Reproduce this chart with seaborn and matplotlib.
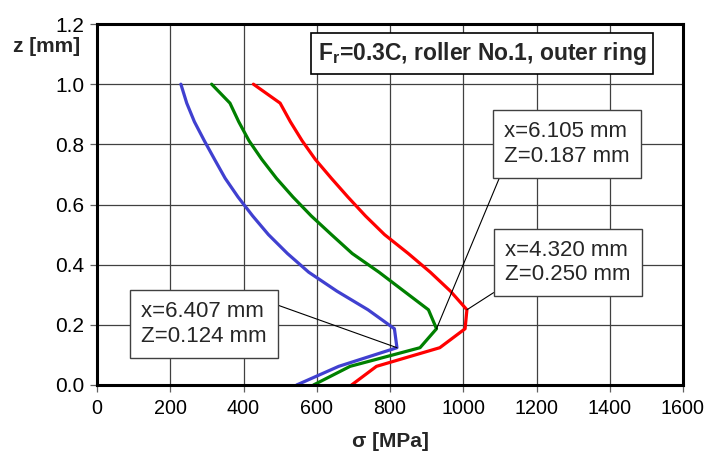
import matplotlib
matplotlib.use("Agg")
import matplotlib.pyplot as plt
import numpy as np
import pandas as pd
import seaborn as sns

# depth below the raceway surface [mm]
z_mm = [0.0, 0.062, 0.124, 0.187, 0.250, 0.312, 0.375, 0.437, 0.500,
        0.562, 0.625, 0.687, 0.750, 0.812, 0.875, 0.937, 1.0]

# equivalent stress [MPa] along depth at three axial positions
sigma_x6407 = [545, 660, 819, 812, 740, 655, 578, 520, 468, 425, 385, 350,
               321, 293, 266, 245, 229]
sigma_x6105 = [591, 691, 882, 927, 905, 838, 770, 697, 640, 585, 535, 490,
               450, 415, 387, 363, 313]
sigma_x4320 = [695, 763, 936, 1005, 1010, 965, 910, 850, 785, 733, 685, 640,
               596, 560, 528, 500, 427]

series_names = ["x=6.407 mm", "x=6.105 mm", "x=4.320 mm"]
series_values = [sigma_x6407, sigma_x6105, sigma_x4320]
peak_depths = [0.124, 0.187, 0.250]
series_colors = ["#4040d0", "#008000", "#ff0000"]

x_ticks = [0, 200, 400, 600, 800, 1000, 1200, 1400, 1600]
y_ticks = [0.0, 0.2, 0.4, 0.6, 0.8, 1.0, 1.2]

title_text = r"$\mathbf{F_r}$=0.3C, roller No.1, outer ring"

frames = []
for name, vals in zip(series_names, series_values):
    frames.append(pd.DataFrame({"sigma": vals, "z": z_mm, "series": name}))
df = pd.concat(frames, ignore_index=True)

sns.set_theme(style="white")
plt.rcParams["font.family"] = ["Liberation Sans", "DejaVu Sans"]
plt.rcParams["mathtext.fontset"] = "custom"
plt.rcParams["mathtext.rm"] = "Liberation Sans"
plt.rcParams["mathtext.bf"] = "Liberation Sans:bold"

fig = plt.figure(figsize=(7.04, 4.57), dpi=100)
ax = fig.add_axes([97 / 704, 72 / 457, 586 / 704, 361 / 457])

sns.lineplot(data=df, x="sigma", y="z", hue="series", palette=series_colors,
             hue_order=series_names, sort=False, estimator=None,
             legend=False, linewidth=2.3, ax=ax)

ax.set_xlim(0, 1600)
ax.set_ylim(0, 1.2)
ax.set_xticks(x_ticks)
ax.set_yticks(y_ticks)
ax.set_xticklabels([str(t) for t in x_ticks])
ax.set_yticklabels([f"{t:.1f}" for t in y_ticks])
ax.grid(True, color="#404040", linewidth=0.9)
ax.set_axisbelow(True)
for sp in ax.spines.values():
    sp.set_linewidth(2.2)
    sp.set_color("black")
ax.tick_params(axis="both", direction="out", length=5, width=0.9,
               color="#606060", labelcolor="black", pad=4,
               bottom=True, left=True)
ax.tick_params(axis="x", labelsize=14.2, pad=5)
ax.tick_params(axis="y", labelsize=15)

ax.set_xlabel("σ [MPa]", fontsize=15, fontweight="bold", labelpad=10)
ax.set_ylabel("")
fig.text(13 / 704, 1 - 47 / 457, "z [mm]", fontsize=15, fontweight="bold",
         ha="left", va="center")

ax.text(1051, 1.102, title_text, fontsize=16.5, fontweight="bold",
        ha="center", va="center",
        bbox=dict(boxstyle="square,pad=0.3", facecolor="white",
                  edgecolor="black", linewidth=1.2))

# leader-line call-outs at the stress maxima
box_centers = {"x=6.407 mm": (293, 0.203, (1, 1)),
               "x=6.105 mm": (1283, 0.801, (0, 0)),
               "x=4.320 mm": (1286, 0.407, (0, 0))}
for name, vals, zp in zip(series_names, series_values, peak_depths):
    i = z_mm.index(zp)
    cx, cy, rel = box_centers[name]
    ax.annotate(f"{name}\nZ={zp:.3f} mm", xy=(vals[i], z_mm[i]),
                xytext=(cx, cy), textcoords="data", fontsize=16,
                ha="center", va="center", multialignment="left",
                linespacing=1.2,
                bbox=dict(boxstyle="square,pad=0.5", facecolor="white",
                          edgecolor="#404040", linewidth=1.0),
                arrowprops=dict(arrowstyle="-", color="black", lw=0.8,
                                relpos=rel, shrinkA=0, shrinkB=0))

fig.savefig("out.png", dpi=100)
